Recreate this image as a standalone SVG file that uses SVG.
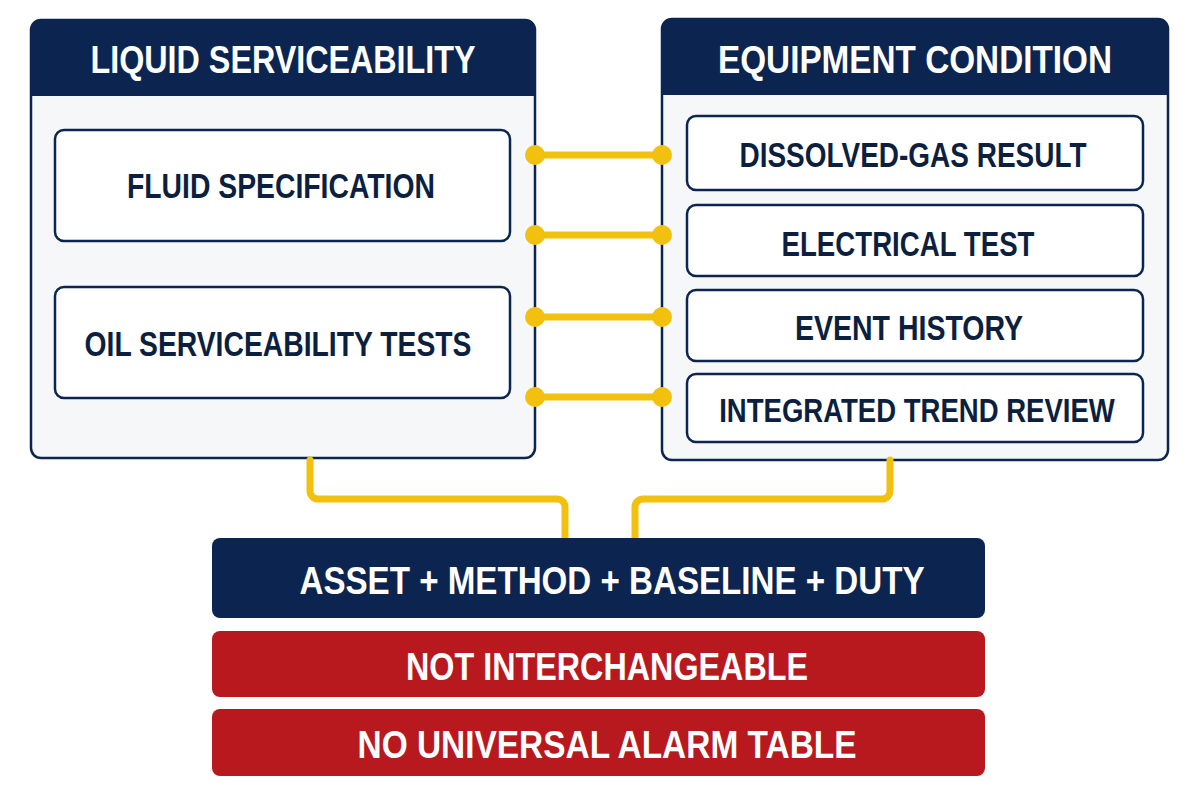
<svg xmlns="http://www.w3.org/2000/svg" width="1200" height="800" viewBox="0 0 1200 800">
<style>
.panel{fill:#f6f7f9;stroke:#0c2550;stroke-width:2.5}
.hdr{fill:#0c2550}
.box{fill:#ffffff;stroke:#0c2550;stroke-width:2.5}
.ht{font-family:"Liberation Sans",Arial,sans-serif;font-weight:bold;fill:#ffffff;text-anchor:middle}
.bt{font-family:"Liberation Sans",Arial,sans-serif;font-weight:bold;fill:#0d1f3f;text-anchor:middle}
.wire{fill:none;stroke:#f2c10f;stroke-width:7;stroke-linecap:round;stroke-linejoin:round}
.dot{fill:#f2c10f}
.navy{fill:#0c2550}
.red{fill:#b8191e}
</style>
<rect width="1200" height="800" fill="#ffffff"/>
<g id="liquid-serviceability">
<rect class="panel" x="31" y="20" width="504" height="438" rx="10"/>
<path class="hdr" d="M31 96 V30 a10 10 0 0 1 10 -10 H525 a10 10 0 0 1 10 10 V96 Z"/>
<text class="ht" x="283" y="73" font-size="38" textLength="385" lengthAdjust="spacingAndGlyphs">LIQUID SERVICEABILITY</text>
</g>
<g id="fluid-specification">
<rect class="box" x="55" y="130" width="455" height="111" rx="9"/>
<text class="bt" x="281" y="198" font-size="35" textLength="308" lengthAdjust="spacingAndGlyphs">FLUID SPECIFICATION</text>
</g>
<g id="oil-serviceability-tests">
<rect class="box" x="55" y="287" width="455" height="111" rx="9"/>
<text class="bt" x="278" y="356" font-size="35" textLength="387" lengthAdjust="spacingAndGlyphs">OIL SERVICEABILITY TESTS</text>
</g>
<g id="equipment-condition">
<rect class="panel" x="662" y="19" width="506" height="441" rx="10"/>
<path class="hdr" d="M662 95 V29 a10 10 0 0 1 10 -10 H1158 a10 10 0 0 1 10 10 V95 Z"/>
<text class="ht" x="915" y="73" font-size="38" textLength="394" lengthAdjust="spacingAndGlyphs">EQUIPMENT CONDITION</text>
</g>
<g id="dissolved-gas-result">
<rect class="box" x="687" y="116" width="456" height="74" rx="9"/>
<text class="bt" x="913" y="167" font-size="35" textLength="347" lengthAdjust="spacingAndGlyphs">DISSOLVED-GAS RESULT</text>
</g>
<g id="electrical-test">
<rect class="box" x="687" y="205" width="456" height="71" rx="9"/>
<text class="bt" x="908" y="256" font-size="35" textLength="253" lengthAdjust="spacingAndGlyphs">ELECTRICAL TEST</text>
</g>
<g id="event-history">
<rect class="box" x="687" y="290" width="456" height="71" rx="9"/>
<text class="bt" x="909" y="340" font-size="35" textLength="228" lengthAdjust="spacingAndGlyphs">EVENT HISTORY</text>
</g>
<g id="integrated-trend-review">
<rect class="box" x="687" y="374" width="456" height="68" rx="9"/>
<text class="bt" transform="translate(917 422) scale(0.81 1)" x="0" y="0" font-size="34">INTEGRATED TREND REVIEW</text>
</g>
<g id="connectors">
<path class="wire" d="M535 155 H662 M535 235 H662 M535 317 H662 M535 397 H662"/>
<circle class="dot" cx="535" cy="155" r="10"/><circle class="dot" cx="662" cy="155" r="10"/>
<circle class="dot" cx="535" cy="235" r="10"/><circle class="dot" cx="662" cy="235" r="10"/>
<circle class="dot" cx="535" cy="317" r="10"/><circle class="dot" cx="662" cy="317" r="10"/>
<circle class="dot" cx="535" cy="397" r="10"/><circle class="dot" cx="662" cy="397" r="10"/>
<path class="wire" d="M310 460 V491 a8 8 0 0 0 8 8 H557 a8 8 0 0 1 8 8 V538"/>
<path class="wire" d="M890 460 V491 a8 8 0 0 1 -8 8 H643 a8 8 0 0 0 -8 8 V538"/>
</g>
<g id="asset-method-baseline-duty">
<rect class="navy" x="212" y="538" width="773" height="80" rx="8"/>
<text class="ht" x="612" y="594" font-size="38" textLength="625" lengthAdjust="spacingAndGlyphs">ASSET + METHOD + BASELINE + DUTY</text>
</g>
<g id="not-interchangeable">
<rect class="red" x="212" y="631" width="773" height="66" rx="8"/>
<text class="ht" x="607" y="680" font-size="38" textLength="402" lengthAdjust="spacingAndGlyphs">NOT INTERCHANGEABLE</text>
</g>
<g id="no-universal-alarm-table">
<rect class="red" x="212" y="709" width="773" height="67" rx="8"/>
<text class="ht" x="607" y="758" font-size="38" textLength="499" lengthAdjust="spacingAndGlyphs">NO UNIVERSAL ALARM TABLE</text>
</g>
</svg>
